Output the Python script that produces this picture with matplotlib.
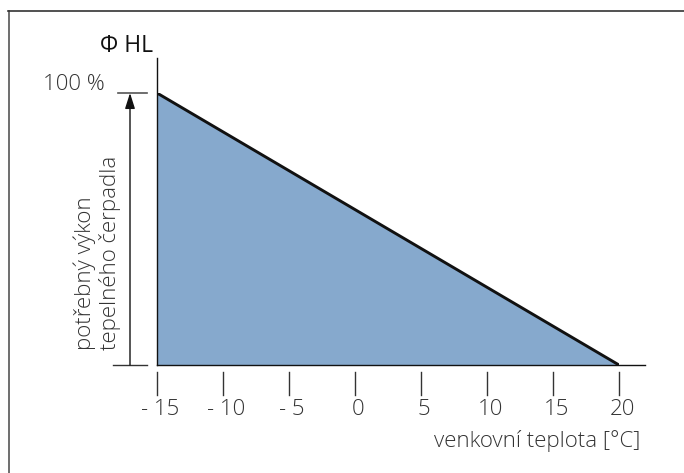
import matplotlib
matplotlib.use("Agg")
import matplotlib.pyplot as plt
from matplotlib.lines import Line2D

# data
temps = [-15, 20]
heat_load = [100, 0]
tick_values = [-15, -10, -5, 0, 5, 10, 15, 20]
tick_labels = ['- 15', '- 10', '- 5', '0', '5', '10', '15', '20']

W, H = 684, 473
fill_color = '#86a9cd'
text_color = '#333333'
plt.rcParams['font.family'] = ['Open Sans', 'DejaVu Sans']
fw = 'light'
fs = 16

fig = plt.figure(figsize=(W / 100, H / 100), dpi=100)
# axes placed so -15..20 maps to px 157..619 and 0..100 to px 365..93
ax = fig.add_axes([157 / W, (H - 365) / H, 462 / W, 272 / H])
ax.set_xlim(-15, 20)
ax.set_ylim(0, 100)
ax.axis('off')

ax.fill_between(temps, heat_load, 0, color=fill_color, linewidth=0)
ax.plot(temps, heat_load, color='#111111', linewidth=2.1, solid_capstyle='butt')

px = 35 / 462.0   # data units per pixel (x)
py = 100 / 272.0  # data units per pixel (y)

# axis lines
ax.plot([-15, -15 + 488 * px], [0, 0], color='#111111', linewidth=1.0, clip_on=False)
ax.plot([-15, -15], [0, 307 * py], color='#111111', linewidth=1.0, clip_on=False)

# x ticks as separate marks below the axis
for t, lab in zip(tick_values, tick_labels):
    ax.plot([t, t], [-7 * py, -30 * py], color='#333333', linewidth=1.0, clip_on=False)
    ax.text(t + 3 * px, -44 * py, lab, ha='center', va='center', fontsize=fs,
            color=text_color, fontweight=fw)

ax.text(-15 + 483 * px, -76 * py, 'venkovní teplota [°C]', ha='right', va='center',
        fontsize=fs, color=text_color, fontweight=fw)

# left bracket with arrow
ax.plot([-15 - 44 * px, -15 - 10 * px], [0, 0], color='#333333', linewidth=1.0, clip_on=False)
ax.plot([-15 - 39 * px, -15 - 10 * px], [100, 100], color='#555555', linewidth=1.2, clip_on=False)
ax.annotate('', xy=(-15 - 27 * px, 100), xytext=(-15 - 27 * px, 0),
            arrowprops=dict(arrowstyle='-|>,head_width=0.15,head_length=0.47',
                            color='#111111', lw=1.0,
                            mutation_scale=20, shrinkA=0, shrinkB=0),
            annotation_clip=False)

ax.text(-15 - 52 * px, 100 + 8 * py, '100 %', ha='right', va='center', fontsize=16,
        color=text_color, fontweight=fw)
ax.text(-15 - 4 * px, 100 + 47 * py, 'Φ HL', ha='right', va='center', fontsize=16.5,
        color='#111111')

ax.text(-15 - 72 * px, 15 * py, 'potřebný výkon', rotation=90, ha='center', va='bottom',
        fontsize=fs, color=text_color, fontweight=fw)
ax.text(-15 - 47 * px, 15 * py, 'tepelného čerpadla', rotation=90, ha='center', va='bottom',
        fontsize=fs, color=text_color, fontweight=fw)

# outer frame (only left and top edges are visible)
fig.add_artist(Line2D([8.5 / W, 8.5 / W], [0, 1 - 11 / H], color='#555555', linewidth=1.2))
fig.add_artist(Line2D([8 / W, 1], [1 - 11 / H, 1 - 11 / H], color='#333333', linewidth=1.2))

fig.savefig('out.png', dpi=100)
